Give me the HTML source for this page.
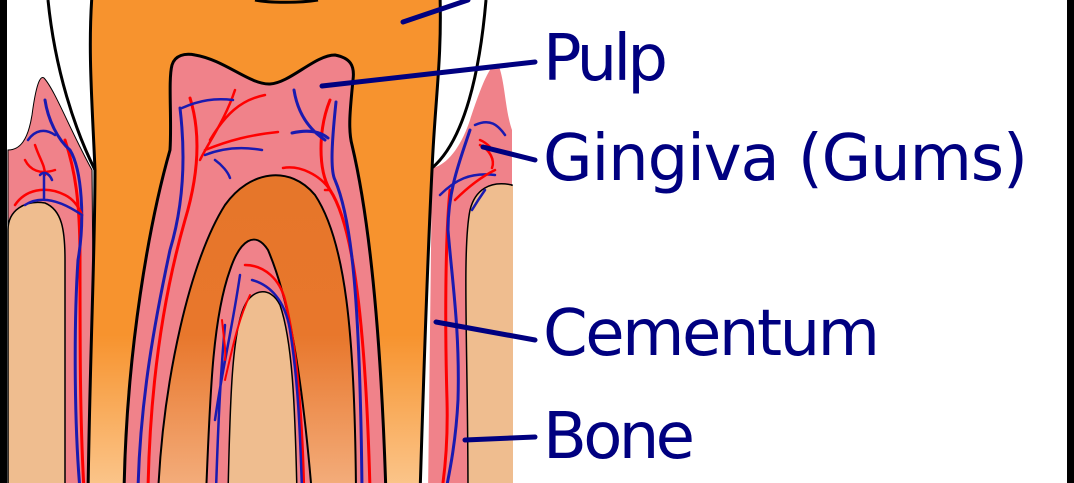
<!DOCTYPE html>
<html><head><meta charset="utf-8"><style>
html,body{margin:0;padding:0;background:#fff;width:1074px;height:483px;overflow:hidden}
svg{display:block}
text{font-family:"DejaVu Sans","Liberation Sans",sans-serif;fill:#000080;font-size:64px}
</style></head><body>
<svg width="1074" height="483" viewBox="0 0 1074 483" xmlns="http://www.w3.org/2000/svg">
<defs>
<linearGradient id="og" x1="0" y1="0" x2="0" y2="1">
<stop offset="0" stop-color="#f7932e"/><stop offset="0.68" stop-color="#f7932e"/><stop offset="1" stop-color="#fbc890"/></linearGradient>
<linearGradient id="dg" x1="0" y1="0" x2="0" y2="1">
<stop offset="0" stop-color="#e6762a"/><stop offset="0.5" stop-color="#e8772c"/><stop offset="1" stop-color="#f4b080"/></linearGradient>
</defs>
<rect width="1074" height="483" fill="#fff"/>
<rect x="0" y="0" width="7" height="483" fill="#000"/>
<rect x="1067" y="0" width="7" height="483" fill="#000"/>
<!-- left gum & bone -->
<path d="M8,150 C20,150 28,140 32,115 C36,85 40,75 44,78 C55,90 70,130 92,170 L95,495 L8,495 Z" fill="#f0828a" stroke="#000" stroke-width="1"/>
<path d="M8,230 C8,210 25,200 45,203 C62,210 65,230 65,260 L65,495 L8,495Z" fill="#efbd8f" stroke="#000" stroke-width="1.5"/>
<!-- right gum & bone -->
<path d="M428,495 L432,168 C445,166 460,150 470,120 C480,90 490,62 498,64 C505,80 505,110 512,130 L512,495 Z" fill="#f0828a"/>
<path d="M468,495 C468,350 462,250 470,210 C475,190 490,180 512,185 L512,495 Z" fill="#efbd8f" stroke="#000" stroke-width="1.5"/>
<rect x="508" y="186" width="5" height="297" fill="#efbd8f"/>
<!-- enamel outlines -->
<path d="M48,0 C55,70 75,130 95,170" fill="none" stroke="#000" stroke-width="3"/>
<path d="M486,0 C480,70 465,140 432,168" fill="none" stroke="#000" stroke-width="3"/>
<!-- tooth -->
<path d="M92,-5 L440,-5 C442,60 435,100 432,170 C428,250 425,330 420,495 L88,495 C90,350 95,250 95,170 C92,100 88,50 92,-5 Z" fill="url(#og)" stroke="#000" stroke-width="3"/>
<path d="M255,0 C270,3 300,3 318,0" fill="none" stroke="#000" stroke-width="3"/>
<!-- pulp -->
<path d="M172,65 C175,55 185,53 195,55 C225,60 250,85 270,84 C290,83 315,55 335,55 C350,58 355,65 353,80 C350,110 348,130 352,145 C365,200 380,300 386,495 L124,495 C126,350 150,220 170,150 C172,120 168,80 172,65 Z" fill="#f0828a" stroke="#000" stroke-width="3"/>
<path d="M158,495 C163,380 190,260 225,205 C250,170 290,165 315,195 C345,240 355,330 356,495 Z" fill="url(#dg)" stroke="#000" stroke-width="2"/>
<path d="M206,495 C210,400 212,320 230,270 C240,240 255,230 268,250 C285,290 300,350 312,495 Z" fill="#f0828a" stroke="#000" stroke-width="2"/>
<path d="M228,495 C230,400 232,330 245,305 C252,290 270,285 280,305 C292,340 295,400 297,495 Z" fill="#efbd8f" stroke="#000" stroke-width="1.5"/>
<!-- vessels -->
<g fill="none" stroke-width="3" stroke-linecap="round">
<path d="M190,98 C200,130 200,170 185,220 C165,290 150,380 148,490" stroke="#f00"/>
<path d="M180,108 C185,150 185,200 170,250 C155,320 140,400 138,490" stroke="#1a1ab0"/>
<path d="M200,160 C210,140 225,120 235,90 M205,150 C230,140 250,135 278,132 M210,140 C225,115 240,100 265,95" stroke="#f00" stroke-width="2.5"/>
<path d="M182,108 C200,100 215,98 233,100 M205,155 C225,147 245,147 262,150 M215,160 C222,165 228,172 230,178" stroke="#1a1ab0" stroke-width="2.5"/>
<path d="M330,100 C318,130 318,170 330,190 C350,220 365,300 370,490" stroke="#f00"/>
<path d="M336,102 C332,140 330,170 335,180 C352,220 360,300 362,490 M294,90 C298,115 310,130 325,140 M292,133 C305,130 318,130 328,138" stroke="#1a1ab0"/>
<path d="M283,168 C300,165 320,175 330,190 L325,190" stroke="#f00" stroke-width="2.5"/>
<path d="M245,265 C265,265 280,280 285,300 C295,340 302,400 304,490" stroke="#f00" stroke-width="2.5"/>
<path d="M252,280 C270,285 285,300 290,330 C298,380 300,430 302,490" stroke="#1a1ab0" stroke-width="2.5"/>
<path d="M240,275 C232,330 222,370 215,420 M225,325 C220,380 218,430 216,490" stroke="#1a1ab0" stroke-width="2.5"/>
<path d="M250,295 C238,320 232,350 225,380 M222,320 C224,340 226,350 225,360" stroke="#f00" stroke-width="2"/>
<path d="M65,140 C75,170 80,200 80,260 C80,350 80,420 84,490" stroke="#f00"/>
<path d="M45,100 C48,120 58,140 70,150 C82,170 85,220 78,260 C74,320 74,420 80,490" stroke="#1a1ab0"/>
<path d="M15,205 C25,190 45,185 65,195 C75,200 80,210 82,215 M25,160 C30,170 40,175 55,170 M35,145 C40,160 45,165 45,175" stroke="#f00" stroke-width="2.5"/>
<path d="M25,205 C40,195 60,200 82,215 M28,140 C35,130 45,128 55,135 M40,175 C45,170 50,175 52,180 M44,175 L44,200" stroke="#1a1ab0" stroke-width="2.5"/>
<path d="M450,190 C445,240 445,330 447,400 C448,440 445,470 442,490" stroke="#f00"/>
<path d="M470,130 C460,160 448,190 448,230 C452,280 460,330 458,400 C456,440 450,470 446,490" stroke="#1a1ab0"/>
<path d="M440,195 C455,180 470,172 495,175 M475,125 C490,118 498,125 505,135 M485,190 C478,200 475,205 472,210" stroke="#1a1ab0" stroke-width="2.5"/>
<path d="M455,200 C470,185 485,175 495,170 M480,145 C490,150 495,160 492,168 M480,140 C485,142 488,145 490,147" stroke="#f00" stroke-width="2.5"/>
</g>
<!-- leader lines -->
<g stroke="#000080" stroke-width="5" stroke-linecap="round">
<line x1="403" y1="22" x2="468" y2="0"/>
<line x1="322" y1="86" x2="535" y2="62"/>
<line x1="483" y1="147" x2="535" y2="160"/>
<line x1="436" y1="322" x2="535" y2="340"/>
<line x1="465" y1="440" x2="535" y2="437"/>
</g>
<text x="543" y="80" textLength="125">Pulp</text>
<text x="543" y="180" textLength="485">Gingiva (Gums)</text>
<text x="543" y="355" textLength="337">Cementum</text>
<text x="543" y="458" textLength="152">Bone</text>
</svg>
</body></html>
